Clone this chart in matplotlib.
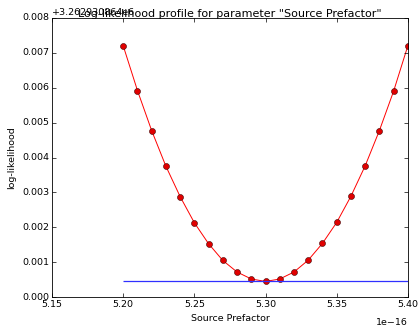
import matplotlib
matplotlib.use('Agg')
import matplotlib.pyplot as plt

plt.style.use('classic')

# data (x in units of 1e-16, y relative to offset)
prefactor = [5.20, 5.21, 5.22, 5.23, 5.24, 5.25, 5.26, 5.27, 5.28, 5.29, 5.30,
             5.31, 5.32, 5.33, 5.34, 5.35, 5.36, 5.37, 5.38, 5.39, 5.40]
loglike = [0.00720, 0.00592, 0.00477, 0.00375, 0.00288, 0.00213, 0.00153,
           0.00105, 0.00072, 0.00052, 0.00045, 0.00052, 0.00072, 0.00106,
           0.00154, 0.00214, 0.00289, 0.00376, 0.00477, 0.00590, 0.00720]
threshold = 0.00045
offset_label = '+3.262930864e6'

FS = 6.8

fig = plt.figure(figsize=(4.2, 3.32), dpi=100)
ax = fig.add_axes([0.124, 0.105, 0.847, 0.841])

ax.plot(prefactor, loglike, color='red', linewidth=0.7, marker='o',
        markersize=4.3, markerfacecolor='#e00000', markeredgecolor='#400000',
        markeredgewidth=0.4)
ax.hlines(threshold, prefactor[0], prefactor[-1], color='#3030ff', linewidth=0.9)

ax.set_xlim(5.15, 5.40)
ax.set_ylim(0, 0.008)
ax.set_xticks([5.15, 5.20, 5.25, 5.30, 5.35, 5.40])
ax.set_xticklabels(['%.2f' % v for v in [5.15, 5.20, 5.25, 5.30, 5.35, 5.40]])
ax.set_yticks([0.000, 0.001, 0.002, 0.003, 0.004, 0.005, 0.006, 0.007, 0.008])
ax.set_yticklabels(['%.3f' % v for v in ax.get_yticks()])
ax.tick_params(labelsize=FS, length=3, width=0.5, pad=2)
for s in ax.spines.values():
    s.set_linewidth(0.6)

ax.set_xlabel('Source Prefactor', fontsize=FS, labelpad=4)
ax.set_ylabel('log-likelihood', fontsize=FS, labelpad=4)
ax.set_title('Log-likelihood profile for parameter "Source Prefactor"',
             fontsize=8.0, y=1.0, pad=1)

ax.text(0.0, 1.005, offset_label, transform=ax.transAxes, fontsize=FS,
        ha='left', va='bottom')
ax.text(1.0, -0.075, '1e\u221216', transform=ax.transAxes, fontsize=FS,
        ha='right', va='top')

fig.savefig('out.png', dpi=100)
